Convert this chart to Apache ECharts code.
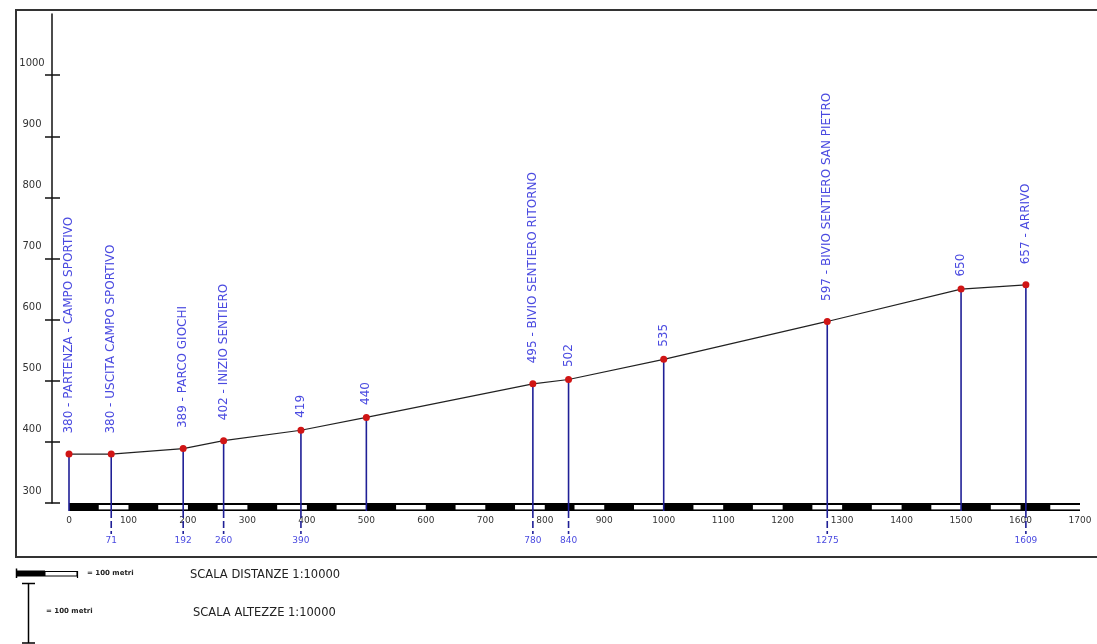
<!DOCTYPE html>
<html>
<head>
<meta charset="utf-8">
<script src="https://cdn.jsdelivr.net/npm/echarts@6/dist/echarts.min.js"></script>
<style>
html,body{margin:0;padding:0;background:#fff;}
#chart{width:1097px;height:644px;}
</style>
</head>
<body>
<div id="chart"></div>
<script>
// ---- data ----
const distances = [0, 71, 192, 260, 390, 500, 780, 840, 1000, 1275, 1500, 1609];
const altitudes = [380, 380, 389, 402, 419, 440, 495, 502, 535, 597, 650, 657];
const names = ['PARTENZA - CAMPO SPORTIVO', 'USCITA CAMPO SPORTIVO', 'PARCO GIOCHI', 'INIZIO SENTIERO', '', '', 'BIVIO SENTIERO RITORNO', '', '', 'BIVIO SENTIERO SAN PIETRO', '', 'ARRIVO'];
const distanceLabels = ['', '71', '192', '260', '390', '', '780', '840', '', '1275', '', '1609'];
const yTicks = [300, 400, 500, 600, 700, 800, 900, 1000];
const scaleWhiteStarts = [50, 150, 250, 350, 450, 550, 650, 750, 850, 950, 1050, 1150, 1250, 1350, 1450, 1550, 1650];
const scaleStep = 50;
const xMin = 0, xMax = 1700, yMin = 300, yMax = 1100;

const FONT = 'DejaVu Sans';
const BLUE_LINE = '#1f1f96';
const BLUE_TEXT = '#4a4ae0';

const chart = echarts.init(document.getElementById('chart'), null, {renderer: 'canvas'});

const pointData = distances.map((d, i) => ({
  value: [d, altitudes[i]],
  label: {distance: names[i] ? 17 : 9}
}));

const dropData = distances.map((d, i) => [d, altitudes[i], i]);

const barData = [[xMin, xMax, 0]].concat(scaleWhiteStarts.map(s => [s, s + scaleStep, 1]));

const plain = v => String(v);

const option = {
  animation: false,
  backgroundColor: '#ffffff',
  grid: {left: 69, right: 17, top: 14, bottom: 141, containLabel: false},
  xAxis: {
    type: 'value', min: xMin, max: xMax, interval: 100,
    axisLine: {show: false}, axisTick: {show: false}, splitLine: {show: false},
    axisLabel: {margin: 13, fontFamily: FONT, fontSize: 9, color: '#333', formatter: plain}
  },
  yAxis: [
    {
      type: 'value', min: yMin, max: yMax, interval: 100, offset: 17, position: 'left',
      axisLine: {show: true, onZero: false, lineStyle: {color: '#111', width: 1.5}},
      axisTick: {show: true, inside: true, length: 8, customValues: yTicks, lineStyle: {color: '#111', width: 1.5}},
      splitLine: {show: false},
      axisLabel: {
        customValues: yTicks, margin: 20, align: 'center', verticalAlign: 'middle',
        lineHeight: 24, fontFamily: FONT, fontSize: 10, color: '#333',
        formatter: v => String(v) + '\n '
      }
    },
    {
      type: 'value', min: yMin, max: yMax, interval: 100, offset: 17, position: 'left',
      axisLine: {show: false, onZero: false},
      axisTick: {show: true, inside: false, length: 7, customValues: yTicks, lineStyle: {color: '#111', width: 1.5}},
      splitLine: {show: false},
      axisLabel: {show: false}
    }
  ],
  series: [
    {
      type: 'custom',
      name: 'scala',
      coordinateSystem: 'cartesian2d',
      clip: false,
      z: 2,
      data: barData,
      renderItem: function (params, api) {
        const p0 = api.coord([api.value(0), yMin]);
        const p1 = api.coord([api.value(1), yMin]);
        const white = api.value(2) === 1;
        if (!white) {
          return {type: 'rect', shape: {x: p0[0], y: p0[1], width: p1[0] - p0[0], height: 8}, style: {fill: '#000'}};
        }
        return {type: 'rect', shape: {x: p0[0], y: p0[1] + 2, width: p1[0] - p0[0], height: 4.4}, style: {fill: '#fff'}};
      }
    },
    {
      type: 'custom',
      name: 'drop',
      coordinateSystem: 'cartesian2d',
      clip: false,
      z: 3,
      data: dropData,
      renderItem: function (params, api) {
        const i = api.value(2);
        const top = api.coord([api.value(0), api.value(1)]);
        const base = api.coord([api.value(0), yMin]);
        const children = [{
          type: 'line',
          shape: {x1: top[0], y1: top[1], x2: base[0], y2: base[1] + 8},
          style: {stroke: BLUE_LINE, lineWidth: 1.6}
        }];
        const lbl = distanceLabels[i];
        if (lbl) {
          children.push({
            type: 'line',
            shape: {x1: base[0], y1: base[1] + 8, x2: base[0], y2: base[1] + 31},
            style: {stroke: BLUE_LINE, lineWidth: 1.6, lineDash: [7, 3]}
          });
          children.push({
            type: 'text',
            style: {
              text: lbl, x: base[0], y: base[1] + 38, align: 'center', verticalAlign: 'middle',
              fontFamily: FONT, fontSize: 9, fill: BLUE_TEXT
            }
          });
        }
        return {type: 'group', children: children};
      }
    },
    {
      type: 'line',
      name: 'profilo',
      z: 4,
      data: pointData,
      smooth: false,
      symbol: 'circle',
      symbolSize: 7,
      itemStyle: {color: '#d01515'},
      lineStyle: {color: '#222', width: 1.2},
      label: {
        show: true, position: 'top', rotate: 90, align: 'left', verticalAlign: 'middle',
        fontFamily: FONT, fontSize: 12, color: BLUE_TEXT,
        formatter: function (p) {
          const n = names[p.dataIndex];
          return n ? altitudes[p.dataIndex] + ' - ' + n : String(altitudes[p.dataIndex]);
        }
      }
    }
  ],
  graphic: [
    {type: 'rect', silent: true, shape: {x: 16, y: 10, width: 1095, height: 547}, style: {fill: null, stroke: '#333', lineWidth: 2}},
    // horizontal scale legend
    {type: 'rect', shape: {x: 16, y: 570.5, width: 29, height: 6}, style: {fill: '#000'}},
    {type: 'rect', shape: {x: 45, y: 571.5, width: 32, height: 4.5}, style: {fill: '#fff', stroke: '#000', lineWidth: 1}},
    {type: 'line', shape: {x1: 16.5, y1: 568.5, x2: 16.5, y2: 578}, style: {stroke: '#000', lineWidth: 1.5}},
    {type: 'line', shape: {x1: 77.5, y1: 571, x2: 77.5, y2: 578}, style: {stroke: '#000', lineWidth: 1.2}},
    {type: 'text', style: {text: '= 100 metri', x: 87, y: 573, verticalAlign: 'middle', fontFamily: FONT, fontSize: 7, fontWeight: 'bold', fill: '#222'}},
    // vertical scale legend
    {type: 'line', shape: {x1: 28.5, y1: 583, x2: 28.5, y2: 643}, style: {stroke: '#000', lineWidth: 1.5}},
    {type: 'line', shape: {x1: 22, y1: 583.5, x2: 35, y2: 583.5}, style: {stroke: '#000', lineWidth: 1.5}},
    {type: 'line', shape: {x1: 22, y1: 643, x2: 35, y2: 643}, style: {stroke: '#000', lineWidth: 1.5}},
    {type: 'text', style: {text: '= 100 metri', x: 46, y: 611, verticalAlign: 'middle', fontFamily: FONT, fontSize: 7, fontWeight: 'bold', fill: '#222'}},
    {type: 'text', style: {text: 'SCALA DISTANZE 1:10000', x: 190, y: 575, verticalAlign: 'middle', fontFamily: FONT, fontSize: 11.5, fill: '#222'}},
    {type: 'text', style: {text: 'SCALA ALTEZZE 1:10000', x: 193, y: 613, verticalAlign: 'middle', fontFamily: FONT, fontSize: 11.5, fill: '#222'}}
  ]
};

chart.setOption(option);
</script>
</body>
</html>
